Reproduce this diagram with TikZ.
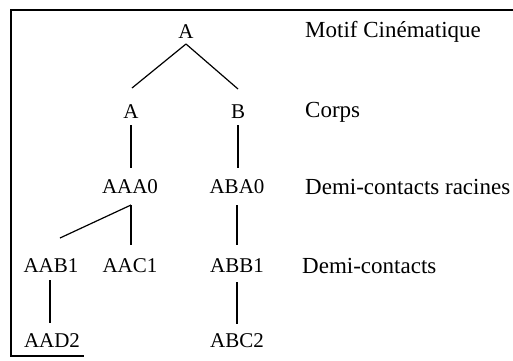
\documentclass[tikz,border=0pt]{standalone}
\usepackage{fontspec}
\setmainfont{Liberation Serif}
\usetikzlibrary{calc}
\begin{document}
\begin{tikzpicture}[x=1pt,y=-1pt,
  lbl/.style={inner sep=0pt,font=\fontsize{21}{24}\selectfont},
  rowlabel/.style={inner sep=0pt,anchor=west,font=\fontsize{23}{26}\selectfont},
  edge/.style={line width=1.2pt},
  frame/.style={line width=1.2pt}]
\useasboundingbox (0,0) rectangle (513,360);
% frame
\coordinate (f1) at (513,10);
\coordinate (f2) at (11,10);
\coordinate (f3) at (11,356);
\coordinate (f4) at (84,356);
\draw[frame] (f1) -- (f2) -- (f3) -- (f4);
% nodes
\node[lbl] (r) at (186,32) {A};
\node[lbl] (a) at (131,112) {A};
\node[lbl] (b) at (238,112) {B};
\node[lbl] (aaa) at (130,187) {AAA0};
\node[lbl] (aba) at (237,187) {ABA0};
\node[lbl] (aab) at (51,266) {AAB1};
\node[lbl] (aac) at (130,266) {AAC1};
\node[lbl] (abb) at (237,266) {ABB1};
\node[lbl] (aad) at (52,341) {AAD2};
\node[lbl] (abc) at (237,341) {ABC2};
% row labels
\node[rowlabel] (c1) at (305,32) {Motif Cinématique};
\node[rowlabel] (c2) at (305,112) {Corps};
\node[rowlabel] (c3) at (305,187) {Demi-contacts racines};
\node[rowlabel] (c4) at (302,266) {Demi-contacts};
% edges
\draw[edge] ($(r)+(0,12)$) -- ($(a)+(1,-24)$);
\draw[edge] ($(r)+(0,12)$) -- ($(b)+(0,-23)$);
\draw[edge] ($(a)+(0,13)$) -- ($(aaa)+(1,-19)$);
\draw[edge] ($(b)+(0,13)$) -- ($(aba)+(1,-19)$);
\draw[edge] ($(aaa)+(1,18)$) -- ($(aac)+(1,-21)$);
\draw[edge] ($(aaa)+(1,18)$) -- ($(aab)+(9,-28)$);
\draw[edge] ($(aba)+(0,18)$) -- ($(abb)+(0,-21)$);
\draw[edge] ($(aab)+(-1,14)$) -- ($(aad)+(-2,-18)$);
\draw[edge] ($(abb)+(0,16)$) -- ($(abc)+(0,-17)$);
\end{tikzpicture}
\end{document}
